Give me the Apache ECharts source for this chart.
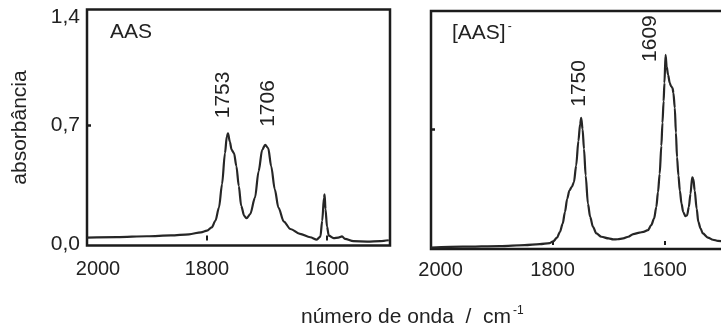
<!DOCTYPE html>
<html><head><meta charset="utf-8">
<script src="https://cdn.jsdelivr.net/npm/echarts@6/dist/echarts.min.js"></script>
<style>html,body{margin:0;padding:0;background:#fff}#c{width:721px;height:328px}</style>
</head><body><div id="c"></div>
<script>
// ---- data ----
const wnL = [2000,1950,1900,1860,1830,1810,1800,1792,1786,1780,1775,1770,1767,1765,1762,1759,1755,1751,1747,1743,1738,1734,1728,1720,1714,1708,1703,1698,1693,1687,1681,1672,1661,1645,1628,1617,1611,1608,1605,1604,1602.5,1600,1597,1589,1581,1575,1570,1556,1533,1511,1497];
const absL = [0.018,0.021,0.026,0.031,0.038,0.05,0.06,0.08,0.12,0.2,0.34,0.53,0.63,0.65,0.6,0.55,0.53,0.45,0.33,0.21,0.15,0.135,0.16,0.26,0.42,0.55,0.58,0.56,0.45,0.31,0.2,0.115,0.07,0.04,0.02,0.006,0.024,0.12,0.26,0.28,0.19,0.085,0.03,0.015,0.018,0.025,0.01,-0.004,-0.006,-0.003,0.002];
const wnR = [2017,1960,1894,1850,1823,1805,1799,1792,1787,1782,1778,1774,1770,1766,1762,1758,1754,1751,1749,1746.5,1744,1741,1737,1733,1728,1722,1713,1700,1692,1684,1674,1665,1656,1645,1638,1630,1624,1619,1615,1612,1609,1606,1604,1602,1600.5,1598.5,1596.5,1594,1591,1588.5,1586,1584.5,1582,1580,1578,1575.5,1573,1570,1567,1563,1560,1557,1554,1551,1549,1546.5,1543,1540,1536,1532,1523,1514,1505,1496];
const absR = [-0.015,-0.01,-0.006,0.0,0.006,0.012,0.022,0.045,0.08,0.13,0.2,0.28,0.33,0.35,0.38,0.48,0.63,0.73,0.77,0.7,0.58,0.42,0.25,0.17,0.11,0.07,0.05,0.04,0.034,0.035,0.04,0.05,0.066,0.075,0.08,0.09,0.12,0.16,0.23,0.32,0.43,0.6,0.74,0.87,0.98,1.15,1.08,1.03,0.98,0.96,0.95,0.92,0.83,0.68,0.53,0.42,0.33,0.25,0.2,0.175,0.18,0.23,0.31,0.41,0.4,0.33,0.22,0.14,0.1,0.07,0.045,0.032,0.025,0.022];
const peakTextL = ['1753','1706'];
const peakWnL = [1765,1703];
const peakAbsL = [0.65,0.58];
const peakTextR = ['1750','1609'];
const peakWnR = [1749,1598.5];
const peakAbsR = [0.77,1.15];
const xTickValues = [2000,1800,1600];
const yTickValues = [0,0.7,1.4];
const yTickLabels = ['0,0','0,7','1,4'];
const panelNames = ['AAS','[AAS]'];
const xTitle = 'número de onda  /  cm';
const yTitle = 'absorbância';

// ---- styles ----
const FONT = "'Liberation Sans', Arial, sans-serif";
const INK = '#222';
const peakOffsetsL = [[-4.5,-15],[3.5,-18]];
const peakOffsetsR = [[-2,-11],[-15,7]];

function markPts(texts, wns, abss, offs){
  return {
    symbol:'circle', symbolSize:0, silent:true, animation:false,
    data: texts.map((t,i)=>({coord:[wns[i],abss[i]], value:t, symbolOffset:offs[i],
      label:{show:true, formatter:t, rotate:90, align:'left', verticalAlign:'middle',
        position:'inside', color:INK, fontSize:21, fontFamily:FONT}}))
  };
}

const chart = echarts.init(document.getElementById('c'), null, {renderer:'canvas'});
const yLabelFmt = v => {
  const i = yTickValues.findIndex(t=>Math.abs(t-v)<1e-6);
  const s = i>=0 ? yTickLabels[i] : '';
  if (i===2) return '{t|'+s+'}';
  if (i===0) return '{b|'+s+'}';
  return s;
};
chart.setOption({
  animation:false,
  grid:[
    {left:87, top:9.5, width:303, height:236, show:true, borderColor:'#1c1c1c', borderWidth:2.5, backgroundColor:'transparent', outerBoundsMode:'none'},
    {left:431, top:11, width:292, height:238, show:true, borderColor:'#1c1c1c', borderWidth:2.5, backgroundColor:'transparent', outerBoundsMode:'none'}
  ],
  title:[
    {text:panelNames[0], left:110, top:22, padding:0, textStyle:{fontSize:21, fontWeight:'normal', color:INK, fontFamily:FONT}},
    {text:panelNames[1]+'{sup|-}', left:452, top:21, padding:0, textStyle:{fontSize:21, fontWeight:'normal', color:INK, fontFamily:FONT,
      rich:{sup:{fontSize:12, color:INK, fontFamily:FONT, padding:[0,0,12,2]}}}},
    {text:xTitle+'{sup|-1}', left:301, top:305, padding:0, textStyle:{fontSize:21, fontWeight:'normal', color:INK, fontFamily:FONT,
      rich:{sup:{fontSize:12, color:INK, fontFamily:FONT, padding:[0,0,12,2]}}}}
  ],
  xAxis:[
    {gridIndex:0, type:'value', inverse:true, min:1495, max:2000,
     axisLine:{show:false}, splitLine:{show:false},
     axisTick:{show:true, inside:true, length:5, lineStyle:{color:'#1c1c1c', width:2}, customValues:[1800,1600]},
     axisLabel:{show:true, margin:14, fontSize:20, color:INK, fontFamily:FONT, customValues:xTickValues,
       formatter:v=> v===2000 ? '{s|2000}' : String(v),
       rich:{s:{fontSize:20, color:INK, fontFamily:FONT, padding:[0,0,0,22]}}}},
    {gridIndex:1, type:'value', inverse:true, min:1496, max:2017,
     axisLine:{show:false}, splitLine:{show:false},
     axisTick:{show:true, inside:true, length:4, lineStyle:{color:'#1c1c1c', width:2}, customValues:[1800,1600]},
     axisLabel:{show:true, margin:11, fontSize:20, color:INK, fontFamily:FONT, customValues:xTickValues,
       formatter:v=>String(v)}}
  ],
  yAxis:[
    {gridIndex:0, type:'value', min:-0.03, max:1.4,
     axisLine:{show:false}, splitLine:{show:false},
     axisTick:{show:true, inside:true, length:4, lineStyle:{color:'#1c1c1c', width:2.5}, customValues:[0.7]},
     axisLabel:{show:true, margin:7, fontSize:21, color:INK, fontFamily:FONT, customValues:yTickValues, formatter:yLabelFmt,
       rich:{t:{fontSize:21, color:INK, fontFamily:FONT, padding:[15,0,0,0]}, b:{fontSize:21, color:INK, fontFamily:FONT, padding:[8,0,0,0]}}},
     name:yTitle, nameLocation:'middle', nameGap:56, nameRotate:90,
     nameTextStyle:{fontSize:21, color:INK, fontFamily:FONT}},
    {gridIndex:1, type:'value', min:-0.024, max:1.416,
     axisLine:{show:false}, splitLine:{show:false},
     axisTick:{show:true, inside:true, length:4, lineStyle:{color:'#1c1c1c', width:2.5}, customValues:[0.7]},
     axisLabel:{show:false}}
  ],
  series:[
    {type:'line', xAxisIndex:0, yAxisIndex:0, showSymbol:false, smooth:0.3, smoothMonotone:'x',
     lineStyle:{color:'#262626', width:2.2}, data:wnL.map((w,i)=>[w,absL[i]]),
     markPoint:markPts(peakTextL,peakWnL,peakAbsL,peakOffsetsL)},
    {type:'line', xAxisIndex:1, yAxisIndex:1, showSymbol:false, smooth:0.3, smoothMonotone:'x',
     lineStyle:{color:'#262626', width:2.2}, data:wnR.map((w,i)=>[w,absR[i]]),
     markPoint:markPts(peakTextR,peakWnR,peakAbsR,peakOffsetsR)}
  ]
});
</script></body></html>
